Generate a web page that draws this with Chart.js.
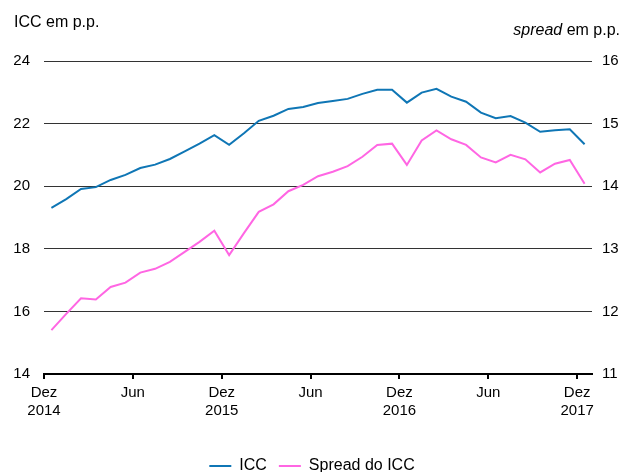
<!DOCTYPE html>
<html>
<head>
<meta charset="utf-8">
<script src="https://cdn.jsdelivr.net/npm/chart.js@4"></script>
<style>
  body { margin: 0; background: #fff; font-family: "Liberation Sans", Arial, sans-serif; }
  #wrap { position: relative; width: 624px; height: 472px; overflow: hidden; }
  .unit { position: absolute; font-size: 16px; color: #000; line-height: 18px; }
</style>
</head>
<body>
<div id="wrap">
  <canvas id="chart" width="624" height="472"></canvas>
  <div class="unit" style="left:14px; top:13px;">ICC em p.p.</div>
  <div class="unit" style="right:4px; top:21px;"><i>spread</i> em p.p.</div>
</div>
<script>
// monthly, Dez 2014 .. Dez 2017
const months = [
    'Dez 2014', 'Jan 2015', 'Fev 2015', 'Mar 2015', 'Abr 2015', 'Mai 2015', 'Jun 2015', 'Jul 2015', 'Ago 2015', 'Set 2015', 'Out 2015', 'Nov 2015',
    'Dez 2015', 'Jan 2016', 'Fev 2016', 'Mar 2016', 'Abr 2016', 'Mai 2016', 'Jun 2016', 'Jul 2016', 'Ago 2016', 'Set 2016', 'Out 2016', 'Nov 2016',
    'Dez 2016', 'Jan 2017', 'Fev 2017', 'Mar 2017', 'Abr 2017', 'Mai 2017', 'Jun 2017', 'Jul 2017', 'Ago 2017', 'Set 2017', 'Out 2017', 'Nov 2017',
    'Dez 2017'
];
const icc = [
    19.31, 19.59, 19.91, 19.97, 20.20, 20.36, 20.58, 20.69, 20.87, 21.11, 21.36, 21.63,
    21.32, 21.69, 22.09, 22.25, 22.47, 22.53, 22.66, 22.72, 22.79, 22.95, 23.08, 23.08,
    22.67, 22.99, 23.11, 22.86, 22.70, 22.35, 22.17, 22.24, 22.03, 21.74, 21.79, 21.82,
    21.34
];
const spread = [
    11.70, 11.96, 12.21, 12.19, 12.39, 12.46, 12.62, 12.68, 12.79, 12.95, 13.11, 13.29,
    12.90, 13.25, 13.59, 13.71, 13.92, 14.02, 14.16, 14.23, 14.32, 14.47, 14.66, 14.68,
    14.34, 14.73, 14.89, 14.75, 14.66, 14.46, 14.38, 14.50, 14.43, 14.22, 14.36, 14.42,
    14.04
];
const xTickLabels = [['Dez', '2014'], 'Jun', ['Dez', '2015'], 'Jun', ['Dez', '2016'], 'Jun', ['Dez', '2017']];

const blue = '#0f76b5';
const pink = '#ff66e3';
const tickFont = { family: '"Liberation Sans", Arial, sans-serif', size: 15 };
const legendFont = { family: '"Liberation Sans", Arial, sans-serif', size: 16 };

const toPoints = arr => arr.map((v, i) => ({ x: i, y: v }));

new Chart(document.getElementById('chart'), {
    type: 'line',
    data: {
        datasets: [{
            label: 'ICC',
            data: toPoints(icc),
            yAxisID: 'y',
            borderColor: blue,
            backgroundColor: blue,
            borderWidth: 2,
            pointRadius: 0,
            tension: 0
        }, {
            label: 'Spread do ICC',
            data: toPoints(spread),
            yAxisID: 'y2',
            borderColor: pink,
            backgroundColor: pink,
            borderWidth: 2,
            pointRadius: 0,
            tension: 0
        }]
    },
    options: {
        responsive: false,
        animation: false,
        layout: { padding: { top: 61, left: 0, right: 0, bottom: -12 } },
        plugins: {
            tooltip: { enabled: false },
            legend: {
                position: 'bottom',
                labels: {
                    color: '#000',
                    font: legendFont,
                    boxWidth: 22,
                    boxHeight: 2,
                    padding: 12,
                    generateLabels: function (chart) {
                        const items = Chart.defaults.plugins.legend.labels.generateLabels(chart);
                        items.forEach(it => { it.lineWidth = 0; });
                        return items;
                    }
                }
            }
        },
        scales: {
            x: {
                type: 'linear',
                min: -0.5,
                max: months.length - 0.5,
                afterBuildTicks: function (axis) {
                    axis.ticks = xTickLabels.map((l, i) => ({ value: i * 6 - 0.5 }));
                },
                afterFit: function (axis) { axis.height = 72; },
                ticks: {
                    color: '#000',
                    font: tickFont,
                    padding: 5,
                    maxRotation: 0,
                    autoSkip: false,
                    callback: (value, index) => xTickLabels[index]
                },
                grid: { drawOnChartArea: false, drawTicks: true, tickLength: 5, color: '#000', lineWidth: 2 },
                border: { color: '#000', width: 2 }
            },
            y: {
                position: 'left',
                min: 14,
                max: 24,
                afterFit: function (axis) { axis.width = 44; },
                ticks: { stepSize: 2, color: '#000', font: tickFont, padding: 14 },
                grid: { color: '#333', lineWidth: 1, drawTicks: false },
                border: { display: false }
            },
            y2: {
                position: 'right',
                min: 11,
                max: 16,
                afterFit: function (axis) { axis.width = 32; },
                ticks: { stepSize: 1, color: '#000', font: tickFont, padding: 10 },
                grid: { drawOnChartArea: false, drawTicks: false },
                border: { display: false }
            }
        }
    }
});
</script>
</body>
</html>
